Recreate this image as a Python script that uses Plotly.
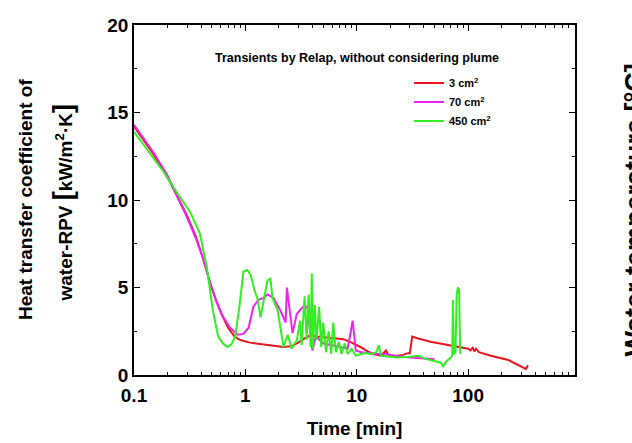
import plotly.graph_objects as go

# Heat transfer coefficient water-RPV (kW/m2K) vs time (min), three break sizes
t_3 = [0.1, 0.15, 0.2, 0.25, 0.3, 0.36, 0.42, 0.48, 0.55, 0.62, 0.7, 0.8, 0.9,
       1.1, 1.4, 1.8, 2.2, 2.6, 2.9, 3.3, 3.9, 4.4, 5.2, 6.2, 7.6, 9.0, 10.8,
       12.5, 14, 16.5, 17.5, 18.3, 19, 20, 23, 26, 29, 30, 31.5, 35, 46, 70,
       100, 105, 110, 114, 118, 125, 160, 230, 280, 310, 330, 345]
h_3 = [14.2, 12.6, 11.3, 10.1, 9.1, 7.9, 6.6, 5.3, 4.2, 3.4, 2.7, 2.2, 2.0,
       1.85, 1.75, 1.65, 1.6, 1.65, 1.8, 2.05, 2.3, 2.2, 2.15, 2.1, 2.05, 1.85, 1.6,
       1.35, 1.2, 1.1, 1.25, 1.4, 1.2, 1.1, 1.1, 1.15, 1.25, 1.25, 2.2, 2.1, 1.9, 1.7,
       1.5, 1.4, 1.55, 1.35, 1.5, 1.3, 1.1, 0.86, 0.6, 0.45, 0.35, 0.55]

t_70 = [0.1, 0.15, 0.2, 0.25, 0.3, 0.36, 0.42, 0.48, 0.55, 0.62, 0.73, 0.85, 0.96,
        1.07, 1.18, 1.31, 1.45, 1.58, 1.79, 2.06, 2.3, 2.36, 2.5, 2.65, 2.9, 3.3,
        3.6, 4.0, 4.3, 5, 6, 7, 8.3, 9.2, 9.8, 11, 12.5, 15, 18, 22, 30, 40, 50]
h_70 = [14.3, 12.7, 11.4, 10.1, 9.0, 7.8, 6.6, 5.3, 4.2, 3.4, 2.7, 2.3, 2.35,
        2.7, 3.9, 4.3, 4.4, 4.6, 4.4, 3.7, 3.0, 5.0, 3.6, 2.4, 3.5, 3.9,
        3.9, 1.4, 2.2, 1.8, 1.7, 1.6, 1.5, 3.1, 1.4, 1.3, 1.25, 1.2, 1.2, 1.1, 1.0, 0.95, 0.9]

t_450 = [0.1, 0.18, 0.25, 0.32, 0.39, 0.45, 0.51, 0.57, 0.63, 0.69, 0.75, 0.81, 0.88,
         0.96, 1.04, 1.12, 1.2, 1.28, 1.37, 1.47, 1.58, 1.68, 1.75, 1.95, 2.1, 2.2,
         2.4, 2.6, 2.9, 3.1, 3.2, 3.4, 3.55, 3.7, 3.85, 3.95, 4.05, 4.2, 4.35, 4.6,
         4.8, 5.0, 5.3, 5.6, 5.9, 6.15, 6.5, 6.9, 7.3, 7.8, 8.3, 9.0, 9.8, 11.6,
         13.5, 15, 15.8, 16.5, 20, 23, 30, 36, 40, 46, 52, 57, 60, 63, 70, 72, 73,
         74.5, 77, 79, 81, 83, 84, 85]
h_450 = [13.9, 11.7, 10.3, 9.3, 8.1, 6.2, 3.7, 2.2, 1.8, 1.6, 1.75, 2.2, 3.8,
         5.9, 6.0, 5.7, 4.9, 4.4, 3.3, 4.3, 5.4, 5.5, 4.4, 3.7, 2.4, 1.6,
         2.3, 1.5, 2.0, 3.1, 1.7, 4.5, 2.0, 4.6, 1.6, 5.8, 1.5, 4.0, 2.0, 3.9,
         1.6, 3.0, 1.3, 2.5, 1.2, 3.0, 1.3, 1.9, 1.2, 1.8, 1.2, 1.5, 1.1, 1.25,
         1.2, 1.3, 1.7, 1.1, 1.05, 1.0, 1.05, 1.1, 0.95, 0.86, 0.8, 0.7, 0.5, 0.75, 1.0, 1.1, 4.3,
         1.2, 1.3, 4.6, 5.0, 4.9, 3.0, 1.2]

x_major = [0.1, 1, 10, 100]
x_minor = [m * d for d in (0.1, 1, 10, 100) for m in range(2, 10)]

FONT = "Liberation Sans, Arial, sans-serif"
PLOT_L, PLOT_W = 134, 441  # plot area left edge and width in px


def px_x(p):
    """Horizontal pixel position -> paper coordinate."""
    return (p - PLOT_L) / PLOT_W


fig = go.Figure()
for t, h, name, color in [
    (t_3, h_3, "3 cm<sup>2</sup>", "#e8141e"),
    (t_70, h_70, "70 cm<sup>2</sup>", "#ee22ee"),
    (t_450, h_450, "450 cm<sup>2</sup>", "#33ee22"),
]:
    fig.add_trace(go.Scatter(x=t, y=h, mode="lines", name=name,
                             line=dict(color=color, width=2)))

fig.update_layout(
    width=632, height=443,
    margin=dict(l=134, r=57, t=25, b=68),
    plot_bgcolor="white", paper_bgcolor="white",
    font=dict(family=FONT, color="black"),
    showlegend=True,
    legend=dict(x=px_x(409), y=0.876, xanchor="left", yanchor="top",
                bgcolor="rgba(0,0,0,0)", tracegroupgap=0,
                font=dict(size=11, family=FONT, weight="bold"),
                itemwidth=30),
    xaxis=dict(type="log", range=[-1, 2.96], automargin=False,
               tickvals=x_major, ticktext=["0.1", "1", "10", "100"],
               ticks="inside", ticklen=6, tickwidth=1, tickcolor="black",
               minor=dict(tickvals=x_minor, ticks="inside", ticklen=3, tickcolor="black"),
               showline=True, linecolor="black", linewidth=1.5, mirror="allticks",
               showgrid=False, zeroline=False, ticklabelstandoff=2,
               tickfont=dict(size=19, family=FONT, weight="bold"),
               title=dict(text="Time [min]", standoff=17,
                          font=dict(size=19, family=FONT, weight="bold"))),
    yaxis=dict(range=[0, 20], tickvals=[0, 5, 10, 15, 20], automargin=False,
               ticks="inside", ticklen=6, tickwidth=1, tickcolor="black",
               minor=dict(tickvals=[2.5, 7.5, 12.5, 17.5], ticks="inside", ticklen=3,
                          tickcolor="black"),
               showline=True, linecolor="black", linewidth=1.5, mirror="allticks",
               showgrid=False, zeroline=False,
               tickfont=dict(size=19, family=FONT, weight="bold")),
)

# Two-line left axis title
fig.add_annotation(xref="paper", yref="paper", x=px_x(25), xanchor="center", y=0.5,
                   text="Heat transfer coefficient of", textangle=-90,
                   showarrow=False, font=dict(size=19, family=FONT, weight="bold"))
fig.add_annotation(xref="paper", yref="paper", x=px_x(62), xanchor="center", y=0.49,
                   text="water-RPV <span style='font-size:27px'>[</span>kW/m<sup>2</sup>·K"
                        "<span style='font-size:27px'>]</span>",
                   textangle=-90, showarrow=False,
                   font=dict(size=19, family=FONT, weight="bold"))
# Right axis title (secondary temperature scale)
fig.add_annotation(xref="paper", yref="paper", x=px_x(617), xanchor="left",
                   y=0.47, text="Water temperature [°C]", textangle=-90,
                   showarrow=False, font=dict(size=27, family=FONT, weight="bold"))
# Chart heading inside plot
fig.add_annotation(xref="paper", yref="paper", x=px_x(357), xanchor="center",
                   y=(375 - 58) / 350, yanchor="middle",
                   text="Transients by Relap, without considering plume",
                   showarrow=False, font=dict(size=12.5, family=FONT, weight="bold"))

fig.write_html("out.html")
